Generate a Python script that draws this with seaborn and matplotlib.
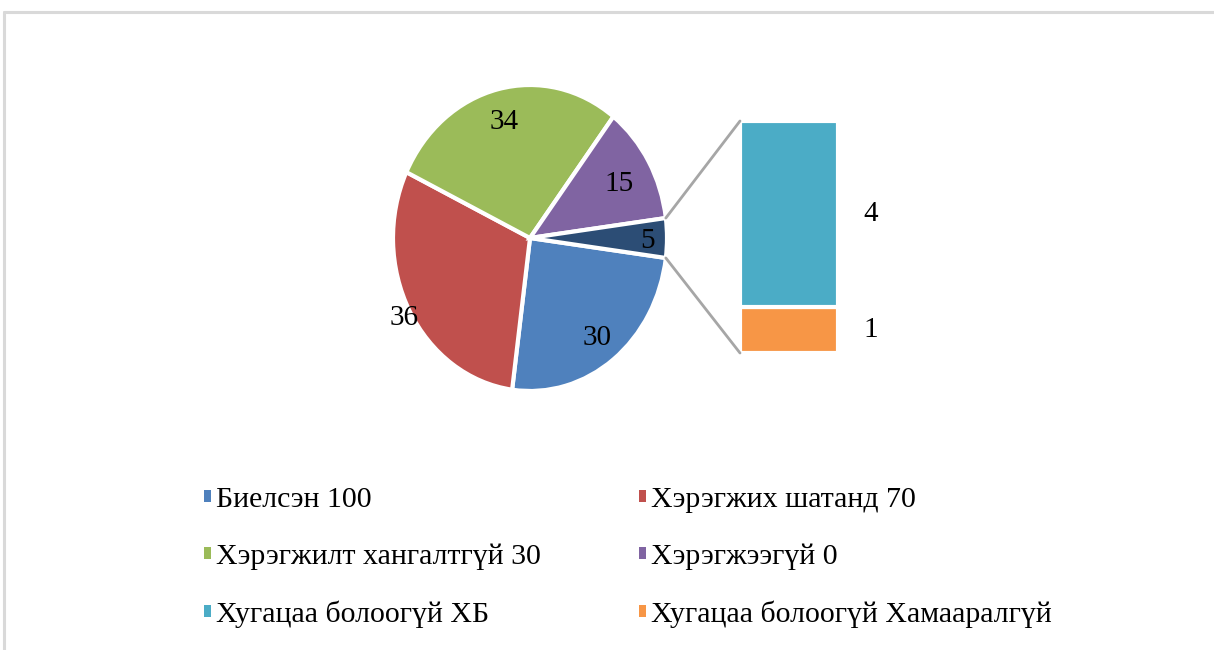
import matplotlib
matplotlib.use("Agg")
import matplotlib.pyplot as plt
import seaborn as sns
import numpy as np
from matplotlib.patches import ConnectionPatch, Patch
from matplotlib.lines import Line2D

# pie slices (last one is the "other" slice broken out into the bar)
pie_values = [30, 36, 34, 15, 5]
pie_colors = ["#4F81BD", "#C0504D", "#9BBB59", "#8064A2", "#2C4D75"]

# bar of the small slice
bar_values = [1, 4]
bar_colors = ["#F79646", "#4BACC6"]

legend_labels = ["Биелсэн 100", "Хэрэгжих шатанд 70", "Хэрэгжилт хангалтгүй 30",
                 "Хэрэгжээгүй 0", "Хугацаа болоогүй ХБ", "Хугацаа болоогүй Хамааралгүй"]
legend_colors = ["#4F81BD", "#C0504D", "#9BBB59", "#8064A2", "#4BACC6", "#F79646"]

sns.set_theme(style="white")
plt.rcParams["font.family"] = ["Liberation Serif", "DejaVu Serif"]
plt.rcParams["text.color"] = "black"

W, H = 1214, 650
fig = plt.figure(figsize=(W / 100, H / 100), dpi=100)

# pie axes (slightly taller than wide, like the original)
ax = fig.add_axes([393 / W, (H - 391) / H, 274 / W, 306 / H])
start = 360 - pie_values[-1] / sum(pie_values) * 180
wedges, _ = ax.pie(pie_values, colors=pie_colors, startangle=start, counterclock=False,
                   wedgeprops=dict(edgecolor="white", linewidth=3))
ax.set_aspect("auto")
ax.set_xlim(-1, 1)
ax.set_ylim(-1, 1)

label_r = [0.8, 1.05, 0.8, 0.75, 0.86]
for w, v, r in zip(wedges, pie_values, label_r):
    ang = np.deg2rad((w.theta1 + w.theta2) / 2)
    ax.text(r * np.cos(ang), r * np.sin(ang) - 0.02, str(v), ha="center", va="center",
            fontsize=21, color="black")

# bar axes
bx = fig.add_axes([740 / W, (H - 353) / H, 98 / W, 232 / H])
bottom = 0
for v, c in zip(bar_values, bar_colors):
    bx.bar(0, v, width=1, bottom=bottom, color=c, edgecolor="white", linewidth=3)
    bx.text(0.76, bottom + v / 2, str(v), ha="left", va="center", fontsize=21,
            color="black", clip_on=False)
    bottom += v
bx.set_xlim(-0.5, 0.5)
bx.set_ylim(0, sum(bar_values))
bx.axis("off")

# connector lines
t1, t2 = wedges[-1].theta1, wedges[-1].theta2
for th, yb in [(max(t1, t2), sum(bar_values)), (min(t1, t2), 0)]:
    a = np.deg2rad(th)
    con = ConnectionPatch(xyA=(np.cos(a) * 1.0, np.sin(a) * 1.0), coordsA=ax.transData,
                          xyB=(-0.5, yb), coordsB=bx.transData,
                          color="#A6A6A6", linewidth=2)
    fig.add_artist(con)

# legend
order = [0, 2, 4, 1, 3, 5]
handles = [Patch(facecolor=legend_colors[i], edgecolor="none") for i in order]
labels = [legend_labels[i] for i in order]
leg = fig.legend(handles, labels, ncol=2, loc="upper left", bbox_to_anchor=(189 / W, 1 - 472 / H),
                 frameon=False, fontsize=21.5, handlelength=0.25, handleheight=0.25,
                 handletextpad=0.15, labelspacing=1.02, columnspacing=3.28, borderpad=0)
for t in leg.get_texts():
    t.set_color("black")

# outer frame edge
fig.add_artist(Line2D([4 / W, 1], [1 - 11.5 / H, 1 - 11.5 / H], color="#D9D9D9", linewidth=2.2))
fig.add_artist(Line2D([4 / W, 4 / W], [0, 1 - 11.5 / H], color="#D9D9D9", linewidth=2.2))

fig.savefig("out.png", dpi=100)
